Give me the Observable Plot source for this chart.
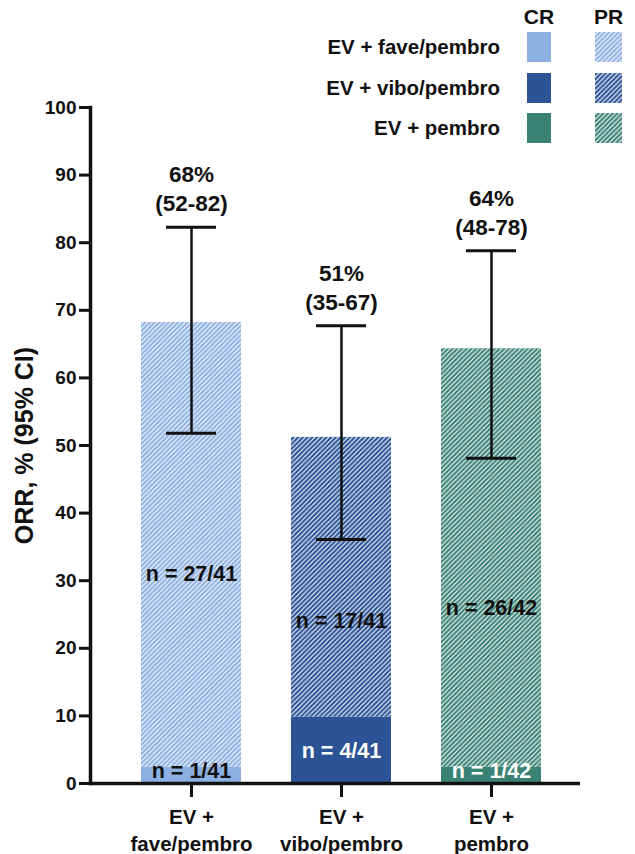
<!DOCTYPE html>
<html>
<head>
<meta charset="utf-8">
<script src="https://cdn.jsdelivr.net/npm/d3@7"></script>
<script src="https://cdn.jsdelivr.net/npm/@observablehq/plot@0.6"></script>
<style>
  html, body { margin: 0; padding: 0; background: #fff; }
  #chart { width: 635px; height: 854px; }
</style>
</head>
<body>
<div id="chart"></div>
<script>
// ---- data ----
const arms = ["EV + fave/pembro", "EV + vibo/pembro", "EV + pembro"];
const armTickLabels = ["EV +\nfave/pembro", "EV +\nvibo/pembro", "EV +\npembro"];
const armColors = ["#8db0e2", "#2c5396", "#3a8275"];
const crValues = [2.4, 9.8, 2.4];      // CR, %
const prValues = [65.8, 41.4, 61.9];   // PR, %
const ciLow = [51.8, 36.1, 48.1];
const ciHigh = [82.3, 67.7, 78.8];
const orrText = ["68%\n(52-82)", "51%\n(35-67)", "64%\n(48-78)"];
const crText = ["n = 1/41", "n = 4/41", "n = 1/42"];
const prText = ["n = 27/41", "n = 17/41", "n = 26/42"];
const crTextColor = ["#111111", "#ffffff", "#ffffff"];
const crLabelAt = [1.9, 4.8, 1.9];
const prLabelAt = [31, 24, 26];
const yTicks = [0, 10, 20, 30, 40, 50, 60, 70, 80, 90, 100];
const yTitle = "ORR, % (95% CI)";
const legendHeaders = ["CR", "PR"];

const rows = arms.map((arm, i) => ({
  arm,
  color: armColors[i],
  cr: crValues[i],
  total: crValues[i] + prValues[i],
  lo: ciLow[i],
  hi: ciHigh[i],
  orrText: orrText[i],
  crText: crText[i],
  prText: prText[i],
  crColor: crTextColor[i],
  crAt: crLabelAt[i],
  prAt: prLabelAt[i]
}));

const FONT = "'Liberation Sans', Arial, Helvetica, sans-serif";

const chart = Plot.plot({
  width: 635,
  height: 854,
  marginTop: 107,
  marginBottom: 71,
  marginLeft: 90,
  marginRight: 55,
  style: { fontFamily: FONT, color: "#111", background: "#fff", overflow: "visible" },
  x: { domain: arms, paddingInner: 1 / 3, paddingOuter: 0.3, align: 0.567, label: null },
  y: { domain: [0, 100], label: null },
  color: { type: "identity" },
  marks: [
    Plot.barY(rows, { x: "arm", y1: 0, y2: "cr", fill: "color" }),
    Plot.barY(rows, { x: "arm", y1: "cr", y2: "total", fill: "color" }),
    Plot.barY(rows, { x: "arm", y1: "cr", y2: "total", fill: "url(#prHatch)" }),
    Plot.ruleX(rows, { x: "arm", y1: "lo", y2: "hi", stroke: "#111", strokeWidth: 2.5 }),
    Plot.tickY(rows, { x: "arm", y: "lo", stroke: "#111", strokeWidth: 3, insetLeft: 25, insetRight: 25 }),
    Plot.tickY(rows, { x: "arm", y: "hi", stroke: "#111", strokeWidth: 3, insetLeft: 25, insetRight: 25 }),
    Plot.text(rows, { x: "arm", y: "hi", text: "orrText", dy: -40, lineHeight: 1.3, fontSize: 22.5, fontWeight: "bold", fill: "#111" }),
    Plot.text(rows, { x: "arm", y: "prAt", text: "prText", fontSize: 21.5, fontWeight: "bold", fill: "#111" }),
    Plot.text(rows, { x: "arm", y: "crAt", text: "crText", fontSize: 21.5, fontWeight: "bold", fill: "crColor" }),
    Plot.axisY({ ticks: yTicks, tickSize: 11, tickPadding: 3, fontSize: 19, fontWeight: "bold", strokeWidth: 3, label: null, fill: "#111" }),
    Plot.axisX({ tickSize: 14, tickPadding: 8, fontSize: 20.5, fontWeight: "bold", lineHeight: 1.3, strokeWidth: 3, label: null, fill: "#111",
      tickFormat: d => armTickLabels[arms.indexOf(d)] }),
    Plot.frame({ anchor: "left", stroke: "#111", strokeWidth: 3.5 }),
    Plot.ruleY([0], { stroke: "#111", strokeWidth: 3.5 }),
    Plot.text([yTitle], { frameAnchor: "left", textAnchor: "middle", rotate: -90, dx: -66, fontSize: 25, fontWeight: "bold", fill: "#111" })
  ]
});

// hatch pattern: white "/" stripes (bottom-left to top-right)
const svg = d3.select(chart);
const defs = svg.insert("defs", ":first-child");
const w = 4.7;
const pat = defs.append("pattern")
  .attr("id", "prHatch")
  .attr("patternUnits", "userSpaceOnUse")
  .attr("width", w).attr("height", w);
pat.append("path")
  .attr("d", `M-1,1 L1,-1 M0,${w} L${w},0 M${w - 1},${w + 1} L${w + 1},${w - 1}`)
  .attr("stroke", "#fff").attr("stroke-width", 1.15).attr("fill", "none");

// legend
const lg = svg.append("g").attr("font-family", FONT).attr("font-weight", "bold").attr("fill", "#111");
const colX = [527, 595];
const swW = [24, 27];
legendHeaders.forEach((h, j) => {
  lg.append("text").attr("x", colX[j] + swW[j] / 2).attr("y", 17).attr("dy", "0.35em")
    .attr("text-anchor", "middle").attr("font-size", 21).text(h);
});
const rowY = [47, 88, 128];
arms.forEach((a, i) => {
  lg.append("text").attr("x", 500).attr("y", rowY[i]).attr("dy", "0.35em")
    .attr("text-anchor", "end").attr("font-size", 20.5).text(a);
  lg.append("rect").attr("x", colX[0]).attr("y", rowY[i] - 15).attr("width", swW[0]).attr("height", 30).attr("fill", armColors[i]);
  lg.append("rect").attr("x", colX[1]).attr("y", rowY[i] - 15).attr("width", swW[1]).attr("height", 30).attr("fill", armColors[i]);
  lg.append("rect").attr("x", colX[1]).attr("y", rowY[i] - 15).attr("width", swW[1]).attr("height", 30).attr("fill", "url(#prHatch)");
});

document.getElementById("chart").appendChild(chart);
</script>
</body>
</html>
